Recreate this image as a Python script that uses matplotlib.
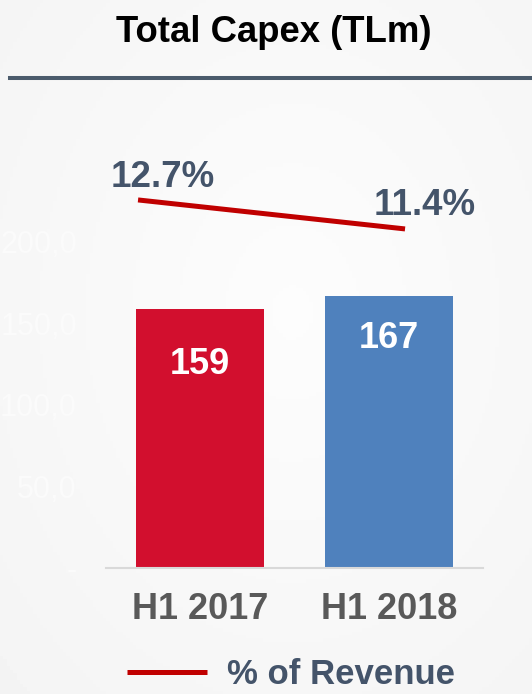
import matplotlib
matplotlib.use("Agg")
import matplotlib.pyplot as plt
from matplotlib.lines import Line2D
import numpy as np

plt.rcParams['font.family'] = ['Liberation Sans', 'DejaVu Sans']

periods = ["H1 2017", "H1 2018"]
capex = [159, 167]
pct_revenue = [12.7, 11.4]
pct_labels = ["12.7%", "11.4%"]
yticks = [0, 50, 100, 150, 200]
ytick_labels = ["-", "50,0", "100,0", "150,0", "200,0"]

W, H = 532, 694
fig = plt.figure(figsize=(W / 100, H / 100), dpi=100)

# soft light-grey background, brighter in the middle
bg = fig.add_axes([0, 0, 1, 1])
yy, xx = np.mgrid[0:1:200j, 0:1:160j]
r = np.sqrt(((xx - 0.55) / 0.9) ** 2 + ((yy - 0.45) / 0.9) ** 2)
bg.imshow(0.99 - 0.04 * np.clip(r, 0, 1), cmap="gray", vmin=0, vmax=1,
          aspect="auto", extent=[0, 1, 0, 1])
bg.axis("off")

left, right = 106 / W, 483 / W
bottom, top = (H - 568) / H, (H - 100) / H
ax = fig.add_axes([left, bottom, right - left, top - bottom])
ax.patch.set_alpha(0)

x = np.arange(len(periods))
bars = ax.bar(x, capex, width=0.68, color=["#D20F2E", "#4F81BD"], zorder=2)
ax.set_xlim(-0.5, 1.5)
ax.set_ylim(0, 287)
ax.set_yticks(yticks)
ax.set_yticklabels(ytick_labels, color="#FBFBFB", fontsize=22)
ax.set_xticks(x)
ax.set_xticklabels(periods, fontsize=26, fontweight="bold", color="#595959")
ax.tick_params(axis="y", length=0, pad=21)
ax.tick_params(axis="x", length=0, pad=17)
for s in ["top", "right", "left"]:
    ax.spines[s].set_visible(False)
ax.spines["bottom"].set_color("#D9D9D9")
ax.spines["bottom"].set_linewidth(1.5)

offsets = [-56, -43]
for b, v, off in zip(bars, capex, offsets):
    ax.annotate(str(v), (b.get_x() + b.get_width() / 2, v),
                xytext=(0, off), textcoords="offset pixels",
                ha="center", va="center", fontsize=26, fontweight="bold",
                color="white")

# percentage of revenue line
ax2 = fig.add_axes([left, bottom, right - left, top - bottom])
ax2.patch.set_alpha(0)
ax2.plot(x, pct_revenue, color="#C00000", linewidth=3.6,
         solid_capstyle="butt", label="% of Revenue")
ax2.set_xlim(-0.12, 1.292)
ax2.set_ylim(-3.8, 17.18)
ax2.axis("off")
for xi, v, lab, off in zip(x, pct_revenue, pct_labels, [(25, 13), (20, 14)]):
    ax2.annotate(lab, (xi, v), xytext=off, textcoords="offset pixels",
                 ha="center", va="baseline", fontsize=26.5, fontweight="bold",
                 color="#44546A")

fig.text(274 / W, 1 - 42 / H, "Total Capex (TLm)", ha="center",
         va="baseline", fontsize=26.3, fontweight="bold", color="black")
fig.add_artist(Line2D([10 / W, 1], [1 - 78 / H, 1 - 78 / H],
                      color="#4B5B6C", linewidth=2.9))

leg = fig.legend(loc="center", bbox_to_anchor=(291 / W, 1 - 675 / H),
                 frameon=False, fontsize=25, handlelength=2.3,
                 handletextpad=0.58, prop={"weight": "bold", "size": 25})
for t in leg.get_texts():
    t.set_color("#44546A")

fig.savefig("out.png", dpi=100)
